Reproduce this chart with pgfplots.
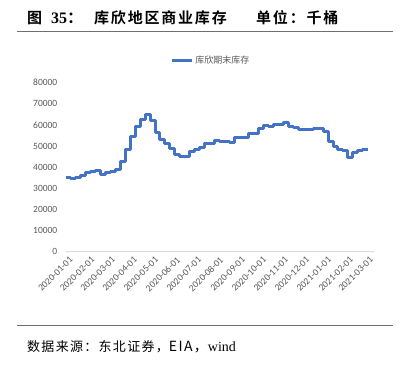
\documentclass[border=0pt]{standalone}
\usepackage{pgfplots}
\pgfplotsset{compat=1.18}
\usepackage{pgfplotstable}
\usepackage{fontspec}
\setmainfont{Liberation Serif}
\newfontfamily\cjk{Noto Sans CJK SC}[BoldFont={Noto Sans CJK SC Bold}]
\newfontfamily\cjkt{Noto Sans CJK SC}[BoldFont={Noto Sans CJK SC Bold},LetterSpace=12]
\newfontfamily\cjks{Noto Sans CJK SC}[LetterSpace=10]
\newfontfamily\calib{Carlito}
\definecolor{lineblue}{HTML}{4472C4}
\definecolor{tickgray}{HTML}{595959}
\definecolor{axgray}{HTML}{D9D9D9}
\definecolor{rulegray}{HTML}{6F6F6F}

\pgfplotstableread{
x y
0 35300
7 34700
14 35100
21 36200
28 37700
35 38000
42 38600
49 36700
56 37400
63 38000
70 38800
77 42500
84 48500
91 54500
98 59100
105 62600
112 64800
119 62000
126 56200
133 53200
140 51300
147 48900
154 46200
161 45300
168 45000
175 47300
182 48300
189 49500
196 51000
203 51400
210 52800
217 52300
224 52000
231 51900
238 53900
245 53900
252 53900
259 55800
266 55800
273 58500
280 59900
287 59300
294 60300
301 60400
308 61200
315 59400
322 59000
329 57900
336 58000
343 58000
350 58100
357 58500
364 56900
371 52100
378 49700
385 48300
392 47700
399 44800
406 47100
413 47900
420 48500
427 48500
}\datatable

\begin{document}
\begin{tikzpicture}[x=1pt,y=1pt]
\path[use as bounding box, fill=white] (0,0) rectangle (416,365);
% title
\node[anchor=base west, inner sep=0] at (27,341) {\fontsize{15}{16}\cjk\bfseries 图};
\node[anchor=base west, inner sep=0] at (51,341) {\fontsize{16}{17}\selectfont\bfseries 35\cjk：};
\node[anchor=base west, inner sep=0] at (94,341) {\fontsize{15}{16}\cjkt\bfseries 库欣地区商业库存};
\node[anchor=base west, inner sep=0] at (256,341) {\fontsize{15}{16}\cjkt\bfseries 单位：千桶};
\draw[rulegray, line width=0.9pt] (17,333.3) -- (393,333.3);
% source
\draw[rulegray, line width=0.9pt] (17,40) -- (393,40);
\node[anchor=base west, inner sep=0] at (27,13.5) {\fontsize{13}{14}\cjks 数据来源：东北证券，\fontsize{14}{15}\selectfont EIA\cjks ，\fontsize{14}{15}\selectfont\rmfamily wind};

\begin{axis}[
  at={(66pt,113.3pt)}, anchor=south west,
  scale only axis, width=308pt, height=169pt,
  xmin=0, xmax=436, ymin=0, ymax=80000,
  axis x line=bottom, axis y line=left,
  x axis line style={draw=axgray, line width=0.9pt, -},
  y axis line style={draw=none},
  major tick length=0pt,
  ytick={0,10000,...,80000},
  scaled y ticks=false,
  /pgf/number format/.cd, 1000 sep={}, assume math mode=true, /pgfplots/.cd,
  yticklabel style={font=\calib\fontsize{9.5}{10}\selectfont, text=tickgray, anchor=east, inner sep=0pt, xshift=-8.5pt},
  xtick={0,31,60,91,121,152,182,213,244,274,305,335,366,397,425},
  xticklabels={2020-01-01,2020-02-01,2020-03-01,2020-04-01,2020-05-01,2020-06-01,2020-07-01,2020-08-01,2020-09-01,2020-10-01,2020-11-01,2020-12-01,2021-01-01,2021-02-01,2021-03-01},
  xticklabel style={font=\calib\fontsize{9.5}{10}\selectfont, text=tickgray, rotate=45, anchor=north east, inner sep=1pt, yshift=-4pt},
  legend style={at={(0.47,1.134)}, anchor=center, draw=none, fill=none, font=\cjk\fontsize{9}{10}\selectfont, text=tickgray, inner sep=0pt},
  legend image code/.code={\draw[#1, line width=3pt] (0pt,0pt) -- (20pt,0pt);},
]
\addplot[const plot, lineblue, line width=3pt, line join=round] table[x=x,y=y]{\datatable};
\addlegendentry{库欣期末库存}
\end{axis}
\end{tikzpicture}
\end{document}
